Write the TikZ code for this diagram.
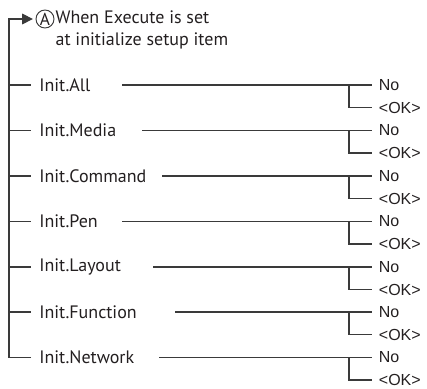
\documentclass[tikz,border=0pt]{standalone}
\usepackage{fontspec}
\setmainfont{PT Sans}
\newfontfamily\answerfont{Liberation Sans}
\usetikzlibrary{arrows.meta, positioning}
\definecolor{linegray}{HTML}{3A3A3A}
\definecolor{labeltext}{HTML}{231F20}

\begin{document}
\begin{tikzpicture}[x=0.75pt, y=-0.75pt,
    item/.style={anchor=west, inner xsep=6pt, inner ysep=2pt, text=labeltext, font=\fontsize{13.5}{15}\selectfont},
    answer/.style={anchor=west, inner xsep=5pt, inner ysep=1pt, text=labeltext, font=\answerfont\fontsize{12}{14}\selectfont},
    circled/.style={circle, draw=linegray, line width=0.7pt, minimum size=13.5pt, inner sep=0pt, text=labeltext, font=\fontsize{13}{13}\selectfont},
    branch/.style={line width=0.8pt, linegray},
    arrow/.style={-{Triangle[length=8pt, width=8pt]}, line width=0.8pt, linegray},
  ]
  \useasboundingbox (0,0) rectangle (427,388);

  \node[circled] (cA) at (45,19) {A};
  \node[item, inner xsep=1pt, align=left, font=\fontsize{13.5}{16.5}\selectfont] (cond) at (54,30) {When Execute is set\\at initialize setup item};
  \coordinate (trunk) at (9,19);
  \coordinate (joint) at (349,0);

  \node[item] (all) at (31,85) {Init.All};
  \node[item] (media) at (31,130.5) {Init.Media};
  \node[item] (cmd) at (31,176) {Init.Command};
  \node[item] (pen) at (31,221.5) {Init.Pen};
  \node[item] (layout) at (31,267) {Init.Layout};
  \node[item] (func) at (31,312) {Init.Function};
  \node[item] (net) at (31,357.5) {Init.Network};

  \node[answer] (allno) at (372,85) {No};
  \node[answer] (allok) at (372,107.5) {<OK>};
  \node[answer] (mediano) at (372,130.5) {No};
  \node[answer] (mediaok) at (372,153) {<OK>};
  \node[answer] (cmdno) at (372,176) {No};
  \node[answer] (cmdok) at (372,198.5) {<OK>};
  \node[answer] (penno) at (372,221.5) {No};
  \node[answer] (penok) at (372,244) {<OK>};
  \node[answer] (layoutno) at (372,267) {No};
  \node[answer] (layoutok) at (372,289.5) {<OK>};
  \node[answer] (funcno) at (372,312) {No};
  \node[answer] (funcok) at (372,334.5) {<OK>};
  \node[answer] (netno) at (372,357.5) {No};
  \node[answer] (netok) at (372,380) {<OK>};

  % left tree
  \draw[arrow, shorten >=2pt] (net.west) -| (trunk) -- (cA.west);
  \draw[branch] (all.west -| trunk) -- (all.west);
  \draw[branch] (media.west -| trunk) -- (media.west);
  \draw[branch] (cmd.west -| trunk) -- (cmd.west);
  \draw[branch] (pen.west -| trunk) -- (pen.west);
  \draw[branch] (layout.west -| trunk) -- (layout.west);
  \draw[branch] (func.west -| trunk) -- (func.west);

  % right branches
  \coordinate (alls) at (122,85);
  \coordinate (medias) at (142,130.5);
  \coordinate (cmds) at (162,176);
  \coordinate (pens) at (122,221.5);
  \coordinate (layouts) at (153,267);
  \coordinate (funcs) at (175,312);
  \coordinate (nets) at (159,357.5);
  \draw[branch] (alls) -- (allno.west);
  \draw[branch] (medias) -- (mediano.west);
  \draw[branch] (cmds) -- (cmdno.west);
  \draw[branch] (pens) -- (penno.west);
  \draw[branch] (layouts) -- (layoutno.west);
  \draw[branch] (funcs) -- (funcno.west);
  \draw[branch] (nets) -- (netno.west);
  \draw[branch] (allno.west -| joint) |- (allok.west);
  \draw[branch] (mediano.west -| joint) |- (mediaok.west);
  \draw[branch] (cmdno.west -| joint) |- (cmdok.west);
  \draw[branch] (penno.west -| joint) |- (penok.west);
  \draw[branch] (layoutno.west -| joint) |- (layoutok.west);
  \draw[branch] (funcno.west -| joint) |- (funcok.west);
  \draw[branch] (netno.west -| joint) |- (netok.west);
\end{tikzpicture}
\end{document}
